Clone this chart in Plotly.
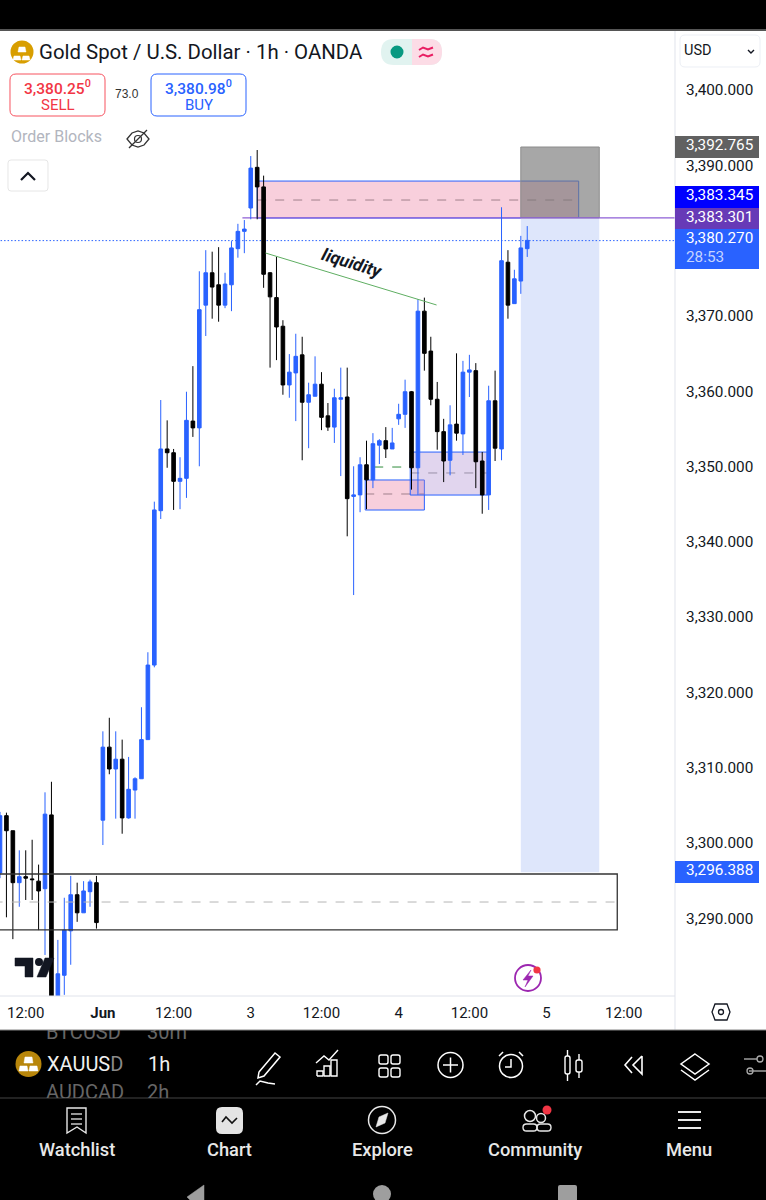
import plotly.graph_objects as go

# candles, oldest first (blue = up, black = down)
opens = [3296.3,3303.9,3301.9,3295.0,3295.8,3295.5,3295.2,3294.2,3304.0,3277.0,3282.7,3288.6,3293.4,3291.0,3293.8,3295.0,
         3303.3,3313.0,3310.1,3311.4,3303.6,3307.3,3308.8,3314.0,3323.9,3344.4,3352.6,3352.1,3348.3,3348.7,3356.3,3355.4,
         3371.7,3376.0,3374.4,3371.7,3374.4,3379.2,3381.5,3384.6,3390.0,3387.4,3376.0,3372.7,3368.9,3361.1,3362.7,3365.1,
         3358.8,3359.6,3361.2,3357.0,3355.5,3359.2,3359.5,3346.3,3346.5,3350.5,3348.5,3353.1,3353.7,3352.6,3356.6,3357.2,
         3360.2,3350.1,3370.9,3365.6,3359.2,3354.9,3351.1,3355.9,3354.6,3362.8,3363.0,3351.0,3346.5,3359.0,3352.6,3377.4,
         3371.9,3374.9,3379.2]
highs = [3304.4,3304.3,3301.9,3299.3,3299.3,3300.7,3297.4,3307.0,3308.4,3287.4,3293.0,3295.9,3295.0,3295.2,3295.4,3295.9,
         3315.1,3316.9,3315.1,3314.0,3311.7,3309.0,3318.3,3325.6,3345.6,3359.1,3356.4,3352.6,3351.5,3360.2,3363.6,3376.2,
         3379.0,3378.8,3379.4,3376.0,3380.2,3382.5,3383.0,3391.5,3392.3,3388.9,3376.1,3378.1,3369.7,3365.2,3367.9,3367.5,
         3361.4,3364.9,3362.8,3358.7,3360.6,3363.4,3363.4,3350.3,3351.5,3353.7,3354.7,3353.9,3355.5,3355.4,3358.6,3361.8,
         3360.3,3372.5,3372.7,3367.5,3361.5,3356.6,3358.4,3365.3,3364.3,3365.1,3364.0,3352.2,3361.0,3363.0,3384.7,3379.0,
         3376.4,3380.9,3382.2]
lows = [3295.6,3290.4,3287.5,3291.8,3292.7,3292.7,3288.7,3285.4,3270.0,3272.0,3280.1,3284.1,3289.8,3291.0,3291.8,3288.9,
        3300.0,3309.4,3303.5,3301.5,3303.5,3303.5,3308.8,3314.0,3323.6,3343.3,3350.1,3344.5,3344.6,3346.1,3354.2,3350.3,
        3367.6,3369.9,3369.5,3371.3,3370.9,3378.0,3378.6,3383.1,3383.1,3374.0,3363.4,3364.4,3359.8,3359.4,3356.3,3351.1,
        3352.7,3359.6,3355.1,3355.0,3353.4,3349.0,3341.0,3333.2,3344.2,3344.6,3347.4,3350.6,3351.4,3352.6,3355.8,3355.4,
        3347.2,3346.5,3363.0,3358.4,3352.5,3348.2,3349.1,3353.7,3351.8,3359.5,3347.4,3344.0,3344.5,3351.0,3351.1,3369.9,
        3371.9,3373.2,3378.1]
closes = [3303.9,3301.9,3295.0,3295.8,3295.6,3295.4,3293.9,3304.1,3277.0,3282.9,3288.7,3293.4,3291.0,3293.9,3295.1,3289.7,
          3313.0,3310.1,3311.4,3303.6,3307.4,3308.8,3314.0,3323.9,3344.5,3352.6,3352.1,3348.3,3348.7,3356.4,3355.4,3371.1,
          3376.0,3374.1,3371.7,3374.5,3379.3,3381.5,3381.8,3389.9,3387.4,3375.8,3372.8,3368.8,3361.1,3362.8,3364.9,3358.8,
          3359.8,3361.2,3356.8,3355.5,3359.4,3359.4,3346.0,3346.5,3350.5,3348.5,3353.3,3353.7,3352.6,3353.4,3357.2,3360.2,
          3350.1,3370.9,3365.3,3359.2,3354.9,3351.0,3355.8,3354.7,3362.8,3363.1,3350.9,3346.5,3359.0,3352.7,3377.6,3371.7,
          3375.2,3379.3,3380.3]
bars = list(range(len(closes)))

price_ticks = [3290,3300,3310,3320,3330,3340,3350,3360,3370,3380,3390,3400]
time_ticks = [4,16,27,39,50,62,73,85,97]
time_labels = ["12:00","<b>Jun</b>","12:00","3","12:00","4","12:00","5","12:00"]

# drawings on the chart: x is bar number, y is price
last_price = 3380.27
entry_price = 3383.30
stop_price = 3392.70
target_price = 3296.39
position_bars = [81,93.2]
zone_top = [40,90,3388.18,3383.27,3385.66]
zone_low = [56.8,66,3348.48,3344.49,3346.62]
zone_mid = [63.8,75.8,3352.19,3346.48,3349.41]
zone_base = [-1,96,3296.15,3288.72,3292.43]
trend_bars = [41.3,67.9]
trend_prices = [3378.62,3371.72]
green_bars = [58.2,63.8]
green_price = 3350.2

BLUE = "#2962ff"
INK = "#131722"
LINE = "#e0e3eb"
PINK = "#f8cfdc"
W, H = 766, 1200


def X(px):
    return px / W


def Y(py):
    return 1 - py / H


def path(points, close=False):
    s = "M" + " L".join("%.5f,%.5f" % (X(a), Y(b)) for a, b in points)
    return s + (" Z" if close else "")


def rpath(x0, y0, x1, y1, r):
    p = lambda a, b: "%.5f,%.5f" % (X(a), Y(b))
    return ("M" + p(x0 + r, y0) + " L" + p(x1 - r, y0) + " Q" + p(x1, y0) + " " + p(x1, y0 + r)
            + " L" + p(x1, y1 - r) + " Q" + p(x1, y1) + " " + p(x1 - r, y1)
            + " L" + p(x0 + r, y1) + " Q" + p(x0, y1) + " " + p(x0, y1 - r)
            + " L" + p(x0, y0 + r) + " Q" + p(x0, y0) + " " + p(x0 + r, y0) + " Z")


shapes = []
notes = []


def ui_rect(x0, y0, x1, y1, fill, line=None, width=1, layer="above"):
    shapes.append(dict(type="rect", xref="paper", yref="paper", x0=X(x0), x1=X(x1), y0=Y(y0), y1=Y(y1), fillcolor=fill,
                       line=dict(color=line, width=width if line else 0), layer=layer))


def ui_round(x0, y0, x1, y1, r, fill, line=None, width=1):
    shapes.append(dict(type="path", xref="paper", yref="paper", path=rpath(x0, y0, x1, y1, r), fillcolor=fill,
                       line=dict(color=line or fill, width=width if line else 0), layer="above"))


def ui_circle(cx, cy, r, fill="rgba(0,0,0,0)", line=None, width=1.5):
    shapes.append(dict(type="circle", xref="paper", yref="paper", x0=X(cx - r), x1=X(cx + r), y0=Y(cy + r), y1=Y(cy - r),
                       fillcolor=fill, line=dict(color=line, width=width if line else 0), layer="above"))


def ui_line(points, color, width=1.5, fill=None):
    shapes.append(dict(type="path", xref="paper", yref="paper", path=path(points, fill is not None),
                       fillcolor=fill or "rgba(0,0,0,0)", line=dict(color=color, width=width), layer="above"))


def ui_text(x, y, text, size=15.3, color=INK, anchor="left", weight=400, family="Roboto"):
    # left anchored annotations sit about 1.5px inside their x
    if anchor == "left":
        x = x - 1.5
    notes.append(dict(xref="paper", yref="paper", x=X(x), y=Y(y), text=text, showarrow=False, xanchor=anchor, yanchor="middle",
                      borderpad=0, font=dict(family=family, size=size, color=color, weight=weight)))


def chart_rect(x0, x1, y0, y1, fill, line=None, width=1, layer="below"):
    shapes.append(dict(type="rect", xref="x", yref="y", x0=x0, x1=x1, y0=y0, y1=y1, fillcolor=fill,
                       line=dict(color=line, width=width if line else 0), layer=layer))


def chart_line(x0, x1, y0, y1, color, width=1, dash="solid", layer="below"):
    shapes.append(dict(type="line", xref="x", yref="y", x0=x0, x1=x1, y0=y0, y1=y1,
                       line=dict(color=color, width=width, dash=dash), layer=layer))


# chart drawings
chart_rect(zone_top[0], zone_top[1], zone_top[2], zone_top[3], PINK, BLUE)
chart_line(zone_top[0], zone_top[1], zone_top[4], zone_top[4], "#a0808c", dash="dash")
chart_rect(position_bars[0], position_bars[1], entry_price, target_price, "#dee6fb")
chart_rect(position_bars[0], position_bars[1], stop_price, entry_price, "rgba(120,120,120,0.65)", "#8c8c8c")
chart_rect(zone_low[0], zone_low[1], zone_low[2], zone_low[3], PINK, BLUE)
chart_line(zone_low[0], zone_low[1], zone_low[4], zone_low[4], "#a0808c", dash="dash")
chart_rect(zone_mid[0], zone_mid[1], zone_mid[2], zone_mid[3], "rgba(170,135,205,0.35)", BLUE)
chart_line(zone_mid[0], zone_mid[1], zone_mid[4], zone_mid[4], "#9a90a8", dash="dash")
chart_line(green_bars[0], green_bars[1], green_price, green_price, "#2e8b3a", dash="dash")
chart_line(37.7, 105, entry_price, entry_price, "#8e5fd6", 1.2)
chart_line(-1, 105, last_price, last_price, BLUE, dash="1.5px,2px")
chart_rect(zone_base[0], zone_base[1], zone_base[2], zone_base[3], "rgba(0,0,0,0)", "#333333", 1.3, "above")
chart_line(zone_base[0], zone_base[1], zone_base[4], zone_base[4], "#b5b5b5", dash="dash", layer="above")
chart_line(trend_bars[0], trend_bars[1], trend_prices[0], trend_prices[1], "#5fae62", layer="above")
notes.append(dict(xref="x", yref="y", x=54.8, y=3377.3, text="<b><i>liquidity</i></b>", showarrow=False, textangle=17,
                  font=dict(family="Roboto", size=17.5, color=INK)))

# frame around the plot
ui_rect(0, 0, W, 30, "#000000")
ui_rect(0, 29, W, 31, "#555555")
ui_line([(675, 31), (675, 1030)], LINE, 1)
ui_line([(0, 996), (675, 996)], LINE, 1)

# title row
ui_circle(22, 52, 11.5, "#d89e00")
ui_line([(14, 56), (20, 56), (21, 60), (13, 60)], "#ffffff", 0.5, "#ffffff")
ui_line([(23, 56), (29, 56), (30, 60), (22, 60)], "#ffffff", 0.5, "#ffffff")
ui_line([(19, 47), (25, 47), (26, 52), (18, 52)], "#ffffff", 0.5, "#ffffff")
ui_text(39, 51.5, "Gold Spot / U.S. Dollar · 1h · OANDA", 20.4)
ui_round(381, 39, 442, 65, 13, "#e1f3f0")
shapes.append(dict(type="path", xref="paper", yref="paper", layer="above", fillcolor="#fcdce6", line=dict(width=0),
                   path="M%.5f,%.5f L%.5f,%.5f Q%.5f,%.5f %.5f,%.5f Q%.5f,%.5f %.5f,%.5f L%.5f,%.5f Z" % (
                       X(412), Y(39), X(429), Y(39), X(442), Y(39), X(442), Y(52), X(442), Y(65), X(429), Y(65), X(412), Y(65))))
ui_circle(397, 52, 6.5, "#089981")
ui_line([(419, 50), (423, 47.5), (428, 49.5), (433, 47.5)], "#e91e63", 2)
ui_line([(419, 57), (423, 54.5), (428, 56.5), (433, 54.5)], "#e91e63", 2)

# sell / buy
ui_round(10, 74, 105, 116, 6, "#ffffff", "#f7525f")
ui_text(57.5, 87, "3,380.25<sup>0</sup>", 15.5, "#f23645", "center", 500)
ui_text(57.5, 105, "SELL", 15, "#f23645", "center")
ui_text(127, 94, "73.0", 12, "#333333", "center", family="Liberation Sans")
ui_round(151, 74, 246, 116, 6, "#ffffff", BLUE)
ui_text(198.5, 87, "3,380.98<sup>0</sup>", 15.5, BLUE, "center", 500)
ui_text(198.5, 105, "BUY", 15, BLUE, "center")

# indicator row and collapse button
ui_text(11, 137, "Order Blocks", 16, "#b2b5be")
ui_line([(127, 139), (132, 133), (138, 131), (144, 133), (149, 139), (144, 145), (138, 147), (132, 145)], "#333333", 1.3, "rgba(0,0,0,0)")
ui_circle(138, 139, 3.5, line="#333333", width=1.2)
ui_line([(129, 148), (147, 130)], "#333333", 1.3)
ui_round(8, 160, 48, 191, 3, "#ffffff", "#e6e6e6")
ui_line([(21, 180), (28, 173), (35, 180)], "#131722", 2.2)

# currency button and price labels
ui_round(680, 35, 760, 67, 5, "#ffffff", "#eceff5")
ui_text(684, 51, "USD", 14.5, INK)
ui_line([(748, 50), (751, 53), (754, 50)], INK, 1.4)
label_boxes = [(136, 158, "#616161"), (186, 208, "#0000ff"), (208, 229, "#673ab7"), (229, 269, BLUE), (861, 883, BLUE)]
for y0, y1, colour in label_boxes:
    ui_rect(675, y0, 759, y1, colour)
ui_text(686, 145, "3,392.765", 15.3, "#ffffff")
ui_text(686, 195, "3,383.345", 15.3, "#ffffff")
ui_text(686, 216.5, "3,383.301", 15.3, "#ffffff")
ui_text(686, 238, "3,380.270", 15.3, "#ffffff")
ui_text(686, 257, "28:53", 15.3, "#c5d4ff")
ui_text(686, 870, "3,296.388", 15.3, "#ffffff")

# tradingview mark, alert bolt, gear
ui_line([(15, 958), (33, 958), (33, 977), (25, 977), (25, 966), (15, 966)], "#131722", 0.5, "#131722")
ui_circle(39, 962, 4, "#131722")
ui_line([(37, 977), (46, 977), (54, 958), (45, 958)], "#131722", 0.5, "#131722")
ui_circle(528, 978, 13, line="#9c27b0", width=1.8)
ui_line([(531, 970), (523, 980), (528, 980), (525, 987), (533, 976), (528, 976)], "#9c27b0", 0.5, "#9c27b0")
ui_circle(537, 970, 3.6, "#f23645")
ui_line([(715, 1004), (727, 1004), (730, 1012), (727, 1020), (715, 1020), (712, 1012)], "#131722", 1.3, "rgba(0,0,0,0)")
ui_circle(721, 1012, 2.5, line="#131722", width=1.3)

# black app bars
ui_rect(0, 1030, W, 1200, "#000000", layer="below")
ui_rect(0, 1097, W, 1099, "#222222", layer="below")
ui_line([(0, 1030), (W, 1030)], "#888888", 1)
ui_circle(28.5, 1064, 13, "#b8860b")
ui_line([(25, 1057), (32, 1057), (33, 1063), (24, 1063)], "#ffffff", 0.5, "#ffffff")
ui_line([(20, 1066), (27, 1066), (28, 1071), (19, 1071)], "#ffffff", 0.5, "#ffffff")
ui_line([(30, 1066), (37, 1066), (38, 1071), (29, 1071)], "#ffffff", 0.5, "#ffffff")
ui_text(47, 1064, "XAUUS<span style='color:#8a8a8a'>D</span>", 20, "#f0f0f0")
ui_text(148, 1064, "1h", 20, "#f0f0f0")

# toolbar icons
ui_line([(259, 1072), (275, 1053), (280, 1057), (264, 1076), (258, 1078), (259, 1072)], "#ffffff", 1.5)
ui_line([(256, 1085), (260, 1081), (268, 1083), (275, 1084)], "#ffffff", 1.5)
for x0, y0 in [(317, 1071), (324, 1066), (331, 1060)]:
    ui_line([(x0, 1076), (x0, y0), (x0 + 6, y0), (x0 + 6, 1076), (x0, 1076)], "#ffffff", 1.4)
ui_line([(316, 1063), (324, 1056), (329, 1060), (338, 1050)], "#ffffff", 1.4)
for x0 in [379, 391]:
    for y0 in [1055, 1068]:
        ui_round(x0, y0, x0 + 9, y0 + 9, 2, "rgba(0,0,0,0)", "#ffffff", 1.4)
ui_circle(450.5, 1065, 12.5, line="#ffffff")
ui_line([(443, 1065), (458, 1065)], "#ffffff", 1.5)
ui_line([(450.5, 1057.5), (450.5, 1072.5)], "#ffffff", 1.5)
ui_circle(511, 1066, 11.5, line="#ffffff")
ui_line([(511, 1059), (511, 1067), (505, 1067)], "#ffffff", 1.5)
ui_line([(499, 1056), (503, 1052)], "#ffffff", 1.5)
ui_line([(519, 1052), (523, 1056)], "#ffffff", 1.5)
ui_round(565, 1056, 570, 1074, 2, "rgba(0,0,0,0)", "#ffffff", 1.4)
ui_line([(567.5, 1050), (567.5, 1056)], "#ffffff", 1.4)
ui_line([(567.5, 1074), (567.5, 1081)], "#ffffff", 1.4)
ui_round(576, 1060, 582, 1072, 2, "rgba(0,0,0,0)", "#ffffff", 1.4)
ui_line([(579, 1054), (579, 1060)], "#ffffff", 1.4)
ui_line([(579, 1072), (579, 1078)], "#ffffff", 1.4)
ui_line([(632, 1057), (625, 1065), (632, 1073)], "#ffffff", 1.6)
ui_line([(642, 1056), (633, 1065), (642, 1074), (642, 1056)], "#ffffff", 1.6)
ui_line([(695, 1054), (709, 1064), (695, 1074), (681, 1064)], "#ffffff", 1.5, "rgba(0,0,0,0)")
ui_line([(681, 1070), (695, 1080), (709, 1070)], "#ffffff", 1.5)
ui_line([(744, 1059), (757, 1059)], "#aaaaaa", 1.4)
ui_circle(760, 1059, 3, line="#aaaaaa", width=1.3)
ui_line([(749, 1071), (766, 1071)], "#aaaaaa", 1.4)
ui_circle(750, 1071, 3, line="#aaaaaa", width=1.3)

# navigation tabs
ui_text(77, 1149, "Watchlist", 18.3, "#e8e8e8", "center", 500)
ui_text(229, 1149, "Chart", 18.3, "#e8e8e8", "center", 500)
ui_text(382, 1149, "Explore", 18.3, "#e8e8e8", "center", 500)
ui_text(535, 1149, "Community", 18.3, "#e8e8e8", "center", 500)
ui_text(689, 1149, "Menu", 18.3, "#e8e8e8", "center", 500)
ui_line([(67, 1108), (86, 1108), (86, 1133), (77, 1127), (67, 1133)], "#e8e8e8", 1.4, "rgba(0,0,0,0)")
for y0 in [1114, 1119, 1124]:
    ui_line([(71, y0), (82, y0)], "#e8e8e8", 1.3)
ui_round(216, 1107, 243, 1134, 6, "#e4e4e4")
ui_line([(222, 1122), (226, 1117), (232, 1123), (237, 1118)], "#111111", 1.6)
ui_circle(382, 1120, 13.5, line="#e8e8e8")
ui_line([(388, 1113), (385, 1123), (376, 1127), (379, 1117)], "#e8e8e8", 0.5, "#e8e8e8")
ui_circle(530, 1116, 5.5, line="#e8e8e8")
ui_circle(541, 1118, 4.5, line="#e8e8e8")
ui_round(523, 1124, 537, 1131, 3.5, "rgba(0,0,0,0)", "#e8e8e8", 1.4)
ui_round(537, 1124, 551, 1131, 3.5, "rgba(0,0,0,0)", "#e8e8e8", 1.4)
ui_circle(547, 1110, 4.5, "#f23645")
for y0 in [1112, 1120, 1128]:
    ui_line([(678, y0), (701, y0)], "#e8e8e8", 2)

# android buttons
ui_line([(204, 1185), (187, 1197), (190, 1200), (204, 1200)], "#9e9e9e", 0.5, "#9e9e9e")
ui_circle(382, 1194, 9, "#9e9e9e")
ui_round(558, 1185, 577, 1206, 2, "#9e9e9e")

fig = go.Figure()
fig.add_trace(go.Candlestick(x=bars, open=opens, high=highs, low=lows, close=closes,
                             increasing=dict(line=dict(color=BLUE, width=1), fillcolor=BLUE),
                             decreasing=dict(line=dict(color="#000000", width=1), fillcolor="#000000"),
                             whiskerwidth=0, showlegend=False))
# symbol list behind the toolbar, cut off by its own strip
fig.add_trace(go.Scatter(x=[46, 147, 46, 147], y=[1034, 1034, 1094, 1094], text=["BTCUSD", "30m", "AUDCAD", "2h"],
                         mode="text", textposition="middle right", textfont=dict(family="Roboto", size=20, color="#666666"),
                         xaxis="x2", yaxis="y2", showlegend=False, cliponaxis=True))

fig.update_layout(
    width=W, height=H, margin=dict(l=0, r=0, t=0, b=0), paper_bgcolor="#ffffff", plot_bgcolor="#ffffff",
    font=dict(family="Roboto", color=INK), showlegend=False, shapes=shapes, annotations=notes, boxgap=0.2,
    xaxis=dict(domain=[0, 675 / W], range=[0, 104.98], rangeslider=dict(visible=False), tickmode="array",
               tickvals=time_ticks, ticktext=time_labels, showgrid=False, zeroline=False, ticks="outside", ticklen=3,
               tickcolor="rgba(0,0,0,0)", tickfont=dict(family="Roboto", size=15, color=INK)),
    yaxis=dict(domain=[Y(996), Y(30)], range=[3279.95, 3408.24], side="right", tickmode="array", tickvals=price_ticks,
               tickformat=",.3f", showgrid=False, zeroline=False, ticks="outside", ticklen=7, ticklabelshift=-2,
               tickcolor="rgba(0,0,0,0)", tickfont=dict(family="Roboto", size=15.3, color=INK)),
    xaxis2=dict(domain=[0, 1], range=[0, W], visible=False, anchor="y2"),
    yaxis2=dict(domain=[Y(1098), Y(1030)], range=[1098, 1030], visible=False, anchor="x2"),
)

fig.write_html("out.html", config=dict(displayModeBar=False),
               post_script="document.body.style.margin='0';document.body.style.overflow='hidden';")
